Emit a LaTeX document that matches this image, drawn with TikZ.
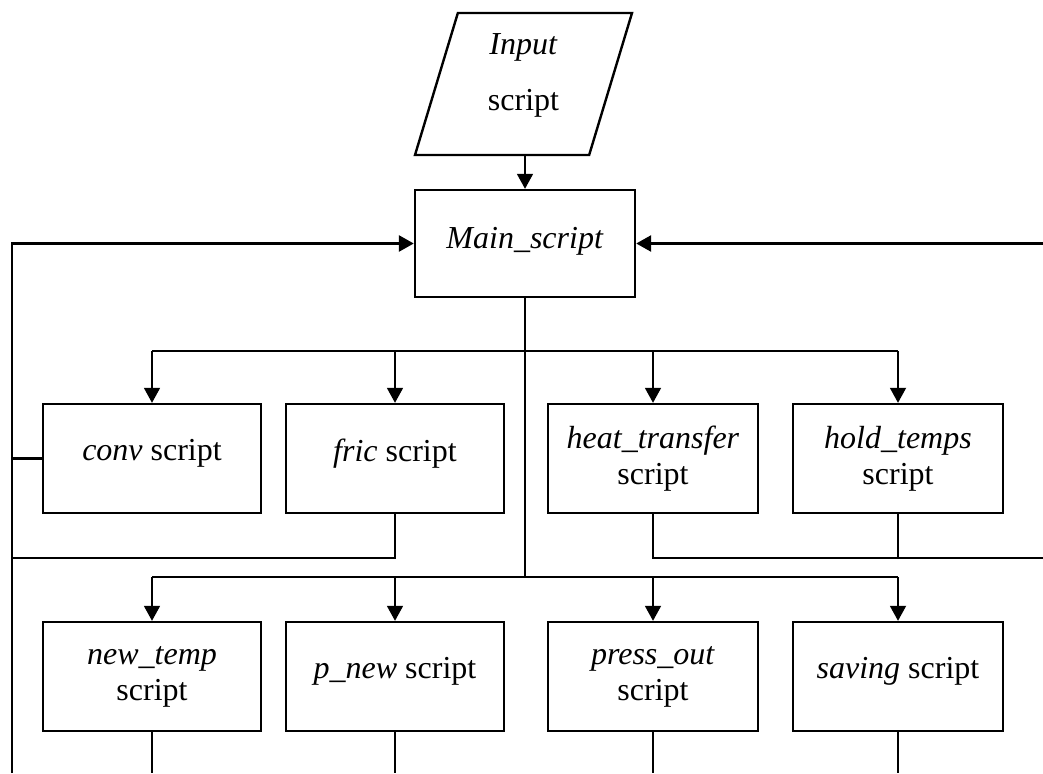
\documentclass[tikz,border=0pt]{standalone}
\usepackage{fontspec}
\setmainfont{Liberation Serif}
\usetikzlibrary{arrows.meta,shapes.geometric}
\tikzstyle{bx}=[draw, line width=2.4pt, minimum height=109pt, inner sep=0, align=center, font=\fontsize{32}{36}\selectfont]
\tikzstyle{one}=[text depth=17pt]
\tikzstyle{ln}=[line width=1.8pt]
\tikzstyle{thk}=[line width=2.7pt]
\tikzstyle{ar}=[-{Triangle[width=16pt,length=15pt]}]

\begin{document}
\begin{tikzpicture}[x=1pt,y=-1pt]
\useasboundingbox (0,0) rectangle (1043,773);
\node at (523.5,84)[bx, shape=trapezium, trapezium left angle=67, trapezium right angle=113, trapezium stretches body, minimum width=217pt, minimum height=142pt, text depth=24pt](in){\textit{Input}\\[20pt]script};
\node at (525,243.5)[bx, minimum width=220pt, minimum height=107pt, text depth=11pt](main){\textit{Main\_script}};
\node at (152,458.5)[bx, one, minimum width=218pt](conv){\textit{conv} script};
\node at (395,458.5)[bx, one, minimum width=218pt](fric){\textit{fric} script};
\node at (653,458.5)[bx, minimum width=210pt](heat){\textit{heat\_transfer}\\script};
\node at (898,458.5)[bx, minimum width=210pt](hold){\textit{hold\_temps}\\script};
\node at (152,676.5)[bx, minimum width=218pt](newt){\textit{new\_temp}\\script};
\node at (395,676.5)[bx, one, minimum width=218pt](pnew){\textit{p\_new} script};
\node at (653,676.5)[bx, minimum width=210pt](press){\textit{press\_out}\\script};
\node at (898,676.5)[bx, one, minimum width=210pt](sav){\textit{saving} script};
\coordinate (r1) at (0,351);
\coordinate (r2) at (0,577);
\coordinate (r3) at (0,558);
\coordinate (lt) at (12,243.5);
\coordinate (lb) at (12,773);
\coordinate (rt) at (1043,243.5);
\draw[ln,ar] (main.north |- in.south) -- (main.north);
\draw[thk] (main.south) -- (main.south |- r2);
\draw[ln] (conv.north |- r1) -- (hold.north |- r1);
\draw[ln] (newt.north |- r2) -- (sav.north |- r2);
\foreach \b in {conv,fric,heat,hold} {\draw[ln,ar] (\b.north |- r1) -- (\b.north);}
\foreach \b in {newt,pnew,press,sav} {\draw[ln,ar] (\b.north |- r2) -- (\b.north);}
\foreach \b in {newt,pnew,press,sav} {\draw[ln] (\b.south) -- (\b.south |- lb);}
%\draw (lt) -- (rt);
\draw[thk,ar] (lb) -- (lt) -- (main.west);
\draw[thk,ar] (rt) -- (main.east);
\draw[thk] (conv.west) -- (conv.west -| lt);
\draw[ln] (fric.south) -- (fric.south |- r3) -- (r3 -| lt);
\draw[ln] (heat.south) -- (heat.south |- r3) -- (r3 -| rt);
\draw[ln] (hold.south) -- (hold.south |- r3);
\end{tikzpicture}
\end{document}
